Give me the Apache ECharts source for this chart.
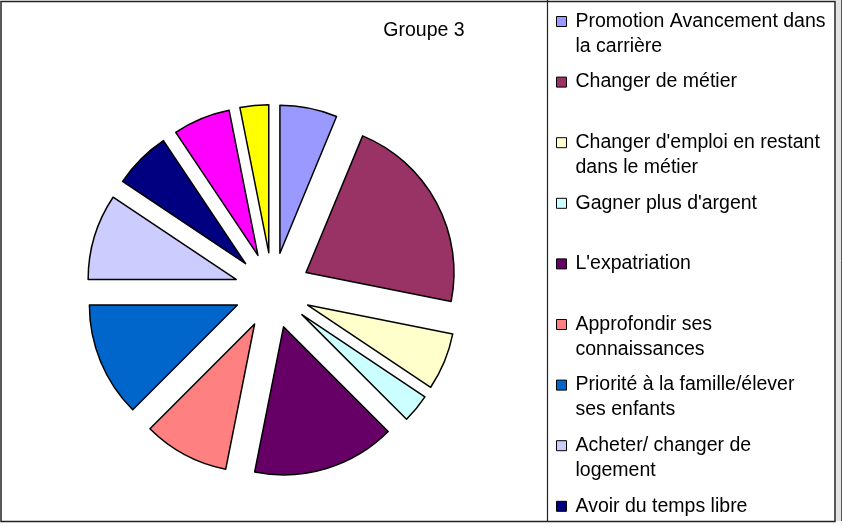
<!DOCTYPE html>
<html>
<head>
<meta charset="utf-8">
<script src="https://cdn.jsdelivr.net/npm/echarts@6/dist/echarts.min.js"></script>
<style>
  html, body { margin: 0; padding: 0; background: #fff; }
  #chart { width: 843px; height: 527px; }
</style>
</head>
<body>
<div id="chart"></div>
<script>
// Motivations, Groupe 3 — number of answers per reason
const categories = [
  "Promotion Avancement dans\nla carrière",
  "Changer de métier",
  "Changer d'emploi en restant\ndans le métier",
  "Gagner plus d'argent",
  "L'expatriation",
  "Approfondir ses\nconnaissances",
  "Priorité à la famille/élever\nses enfants",
  "Acheter/ changer de\nlogement",
  "Avoir du temps libre",
  "Autre",
  "Sans réponse"
];
const values = [2, 7, 2, 1, 5, 3, 4, 3, 2, 2, 1];
const colors = [
  "#9999FF", "#993366", "#FFFFCC", "#CCFFFF", "#660066", "#FF8080",
  "#0066CC", "#CCCCFF", "#000080", "#FF00FF", "#FFFF00"
];
// only the first nine entries fit in the legend box
const legendCount = 9;
const chartTitle = "Groupe 3";

const FONT = "'Liberation Sans', Arial, sans-serif";
const FONT_SIZE = 19.5;
const LINE_H = 25;

const pieData = categories.map((name, i) => ({
  name: name,
  value: values[i],
  selected: true,
  itemStyle: { color: colors[i] }
}));

const legendNames = categories.slice(0, legendCount);

// Every label becomes a three-line block whose middle line is the first
// line of text, so the marker lines up with it and all entries share one pitch.
function legendLabel(name) {
  const lines = name.split("\n");
  return "\n" + lines[0] + "\n" + (lines[1] || "");
}

const chart = echarts.init(document.getElementById("chart"), null, { renderer: "canvas" });
chart.setOption({
  animation: false,
  backgroundColor: "#ffffff",
  legend: {
    orient: "vertical",
    left: 556,
    top: -16,
    height: 1000,
    padding: 0,
    itemGap: -14.4,
    itemWidth: 10,
    itemHeight: 10,
    icon: "rect",
    selectedMode: false,
    itemStyle: { borderColor: "#000", borderWidth: 1 },
    formatter: legendLabel,
    textStyle: {
      fontFamily: FONT,
      fontSize: FONT_SIZE,
      color: "#000",
      lineHeight: LINE_H,
      padding: [0, 0, 0, 4]
    },
    data: legendNames
  },
  graphic: [
    {
      type: "rect",
      shape: { x: 1, y: 1.5, width: 834, height: 520 },
      style: { fill: null, stroke: "#222", lineWidth: 1.5 },
      z: 100
    },
    {
      type: "line",
      shape: { x1: 547.5, y1: 0, x2: 547.5, y2: 521 },
      style: { stroke: "#222", lineWidth: 1.2 },
      z: 100
    },
    {
      type: "rect",
      shape: { x: 836, y: 0, width: 5, height: 521 },
      style: { fill: "#e2e2e2" },
      z: 99
    },
    {
      type: "line",
      shape: { x1: 841.5, y1: 0, x2: 841.5, y2: 521 },
      style: { stroke: "#555", lineWidth: 1 },
      z: 100
    },
    {
      type: "text",
      x: 424,
      y: 31,
      style: {
        text: chartTitle,
        font: FONT_SIZE + "px " + FONT,
        fill: "#000",
        align: "center",
        verticalAlign: "middle"
      }
    }
  ],
  series: [
    {
      type: "pie",
      center: [272.5, 290.5],
      radius: [0, 148],
      startAngle: 90,
      clockwise: true,
      selectedMode: "multiple",
      selectedOffset: 38,
      avoidLabelOverlap: false,
      label: { show: false },
      labelLine: { show: false },
      emphasis: { disabled: true },
      itemStyle: { borderColor: "#000", borderWidth: 1.5 },
      data: pieData
    }
  ]
});
</script>
</body>
</html>
